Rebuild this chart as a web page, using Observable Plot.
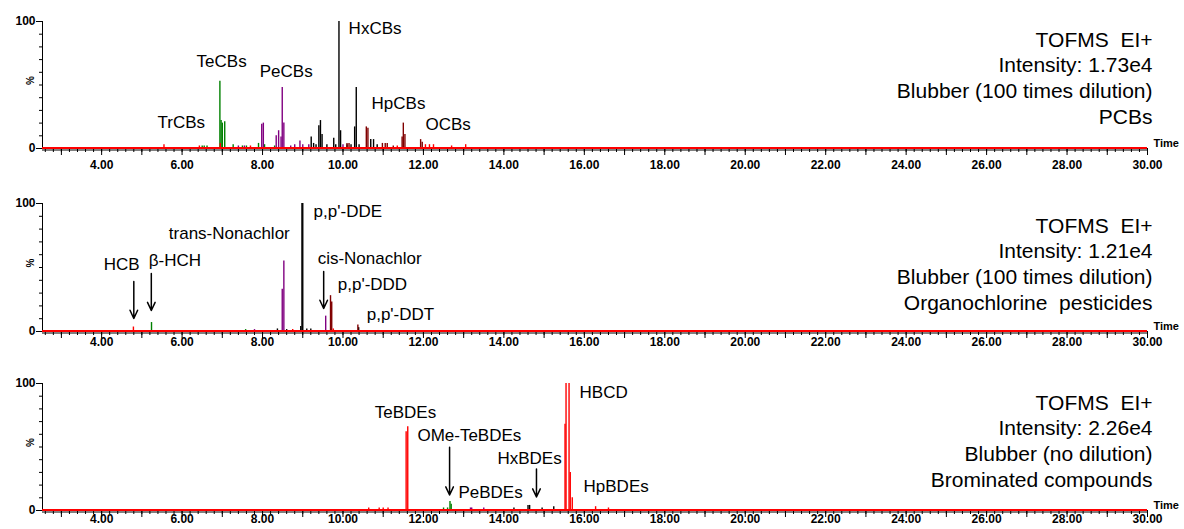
<!DOCTYPE html>
<html><head><meta charset="utf-8">
<script src="https://cdn.jsdelivr.net/npm/d3@7"></script>
<script src="https://cdn.jsdelivr.net/npm/@observablehq/plot@0.6"></script>
<style>
body{margin:0;background:#fff;}
#chart svg{display:block;}
svg text{white-space:pre;}
</style></head><body><div id="chart"></div>
<script>
// ---- axis tick values ----
const xLabelTicks = [4,6,8,10,12,14,16,18,20,22,24,26,28,30];
const yLabelTicks = [0,100];
const seriesKeys = ["green","purple","black","maroon","red"];
const seriesColors = ["#008c00","#a000a0","#000000","#8b0000","#ff0000"];

// ---- Panel 1: PCBs  [retention time (min), relative intensity %] ----
const pcbGreen  = [[6.5,2],[6.55,2],[6.62,2],[6.94,53],[6.97,22],[7.0,20],[7.06,21],[7.27,3],[7.5,2],[7.6,2],[7.9,4],[8.05,3],[8.3,2]];
const pcbPurple = [[7.4,2],[7.55,2],[7.98,19],[8.02,20],[8.34,10],[8.4,14],[8.46,9],[8.49,48],[8.53,20],[8.7,2],[8.8,3],[8.93,6],[9.0,3],[9.15,3],[10.0,3]];
const pcbBlack  = [[9.21,9],[9.27,4],[9.33,3],[9.4,18],[9.44,22],[9.48,11],[9.6,3],[9.77,8],[9.82,3],[9.9,100],[9.94,14],[10.1,3],[10.2,3],[10.29,17],[10.33,48],[10.4,3],[10.69,7],[10.76,7],[10.85,3]];
const pcbMaroon = [[10.1,4],[10.15,4],[10.58,17],[10.62,16],[10.98,4],[11.05,4],[11.1,4],[11.25,2],[11.47,9],[11.5,20],[11.54,11],[11.93,7],[11.97,5]];
const pcbRed    = [[5.55,3],[6.43,2],[6.95,4],[7.7,2],[11.35,2],[12.05,3],[12.15,3],[12.25,3],[12.7,2],[13.05,3]];
const pcbLabels = [["TrCBs",5.39,20.4],["TeCBs",6.36,68.2],["PeCBs",7.93,60.4],["HxCBs",10.14,94.1],["HpCBs",10.71,35.3],["OCBs",12.05,18.8]];
const pcbArrows = [];
const pcbInfo = ["TOFMS  EI+","Intensity: 1.73e4","Blubber (100 times dilution)","PCBs"];

// ---- Panel 2: Organochlorine pesticides ----
const ocpGreen  = [[5.24,7],[7.58,1.5]];
const ocpPurple = [[7.8,1.5],[8.49,33],[8.53,55],[9.57,12]];
const ocpBlack  = [[8.37,2],[8.6,1.5],[8.95,4],[8.98,100],[9.0,100],[9.1,2],[9.2,2],[10.39,3]];
const ocpMaroon = [[9.69,28],[9.72,23],[10.37,5]];
const ocpRed    = [[4.79,3.5],[8.75,1.5],[9.76,2]];
const ocpLabels = [["HCB",4.05,52.3],["β-HCH",5.17,55.5],["trans-Nonachlor",5.67,76.6],["p,p'-DDE",9.27,93.8],["cis-Nonachlor",9.37,57],["p,p'-DDD",9.87,36.7],["p,p'-DDT",10.59,13.3]];
const ocpArrows = [[4.80,39,10.2],[5.235,45.3,16.4],[9.52,46.9,18]];
const ocpInfo = ["TOFMS  EI+","Intensity: 1.21e4","Blubber (100 times dilution)","Organochlorine  pesticides"];

// ---- Panel 3: Brominated compounds ----
const brGreen  = [[12.5,2],[12.6,2],[12.66,7],[12.69,5]];
const brPurple = [[13.17,2],[13.2,2],[13.5,2]];
const brBlack  = [[14.25,2],[14.6,4],[14.64,4],[14.95,2],[15.24,3]];
const brMaroon = [];
const brRed    = [[10.64,2],[10.9,2],[11.0,2],[11.12,2],[11.57,62],[11.61,66],[15.52,68],[15.545,100],[15.62,100],[15.65,30],[15.70,10],[16.28,3],[16.6,2]];
const brLabels = [["TeBDEs",10.79,77.4],["OMe-TeBDEs",11.85,59.4],["PeBDEs",12.87,14.5],["HxBDEs",13.84,41.3],["HBCD",15.88,93.2],["HpBDEs",15.98,18.5]];
const brArrows = [[12.65,49.9,12.2],[14.81,32.6,10.6]];
const brInfo = ["TOFMS  EI+","Intensity: 2.26e4","Blubber (no dilution)","Brominated compounds"];

// ---- build ----
const minorX = d3.range(13, 151).map(i => i / 5);
const majorX = d3.range(3, 31);
const minorY = d3.range(0, 101, 10);
const font = "'Liberation Sans', Arial, sans-serif";

function makePanel(series, labels, arrows, info, lay) {
  const data = [];
  seriesKeys.forEach((k, i) => { for (const [t, h] of series[i]) data.push({t, h, s: k}); });
  const lab = labels.map(([label, x, y]) => ({label, x, y}));
  const arr = arrows.map(([x, y1, y2]) => ({x, y1, y2}));
  return Plot.plot({
    width: 1184, height: lay.height,
    marginLeft: 42, marginRight: 37, marginTop: lay.mt, marginBottom: lay.mb,
    x: {domain: [2.53, 30], label: null},
    y: {domain: [0, 100], label: null},
    color: {domain: seriesKeys, range: seriesColors},
    style: {fontFamily: font, background: "white", overflow: "visible", color: "black"},
    marks: [
      Plot.frame({anchor: "left", stroke: "black"}),
      Plot.ruleY([0], {stroke: "black", strokeWidth: 1, dy: 1.5}),
      Plot.axisX({ticks: minorX, tickSize: 4, text: null, label: null}),
      Plot.axisX({ticks: majorX, tickSize: 7, text: null, label: null}),
      Plot.axisX({ticks: xLabelTicks, tickSize: 0, tickPadding: lay.pad, tickFormat: d => d.toFixed(2), fontSize: 12, fontWeight: "bold", label: null}),
      Plot.axisY({ticks: minorY, tickSize: 3, text: null, label: null}),
      Plot.axisY({ticks: yLabelTicks, tickSize: 6, tickPadding: 1, fontSize: 12, fontWeight: "bold", label: null}),
      Plot.text([50], {y: d => d, frameAnchor: "left", text: () => "%", rotate: -90, dx: -12, fontSize: 10, fontWeight: "bold"}),
      Plot.ruleX(data, {x: "t", y1: 0, y2: "h", stroke: "s", strokeWidth: 1.4}),
      Plot.ruleY([0], {stroke: "#ff0000", strokeWidth: 2, dy: -0.5}),
      Plot.arrow(arr, {x1: "x", x2: "x", y1: "y1", y2: "y2", stroke: "black", strokeWidth: 1.5, headLength: 9, headAngle: 50}),
      Plot.text(lab, {x: "x", y: "y", text: "label", textAnchor: "start", fontSize: 17, fill: "black"}),
      Plot.text([info.join("\n")], {frameAnchor: "top-right", text: d => d, textAnchor: "end", lineAnchor: "top", lineHeight: 1.22, fontSize: 21, dx: 5, dy: lay.infoDy, fill: "black"}),
      Plot.text(["Time"], {frameAnchor: "bottom-right", text: d => d, textAnchor: "start", dx: 6, dy: -2, fontSize: 11, fontWeight: "bold"})
    ]
  });
}

const root = document.getElementById("chart");
root.append(makePanel([pcbGreen, pcbPurple, pcbBlack, pcbMaroon, pcbRed], pcbLabels, pcbArrows, pcbInfo, {height: 182, mt: 21, mb: 34, pad: 12, infoDy: 7}));
root.append(makePanel([ocpGreen, ocpPurple, ocpBlack, ocpMaroon, ocpRed], ocpLabels, ocpArrows, ocpInfo, {height: 182, mt: 21, mb: 33, pad: 6, infoDy: 11}));
root.append(makePanel([brGreen, brPurple, brBlack, brMaroon, brRed], brLabels, brArrows, brInfo, {height: 165, mt: 19, mb: 19, pad: 4, infoDy: 8}));
</script></body></html>
